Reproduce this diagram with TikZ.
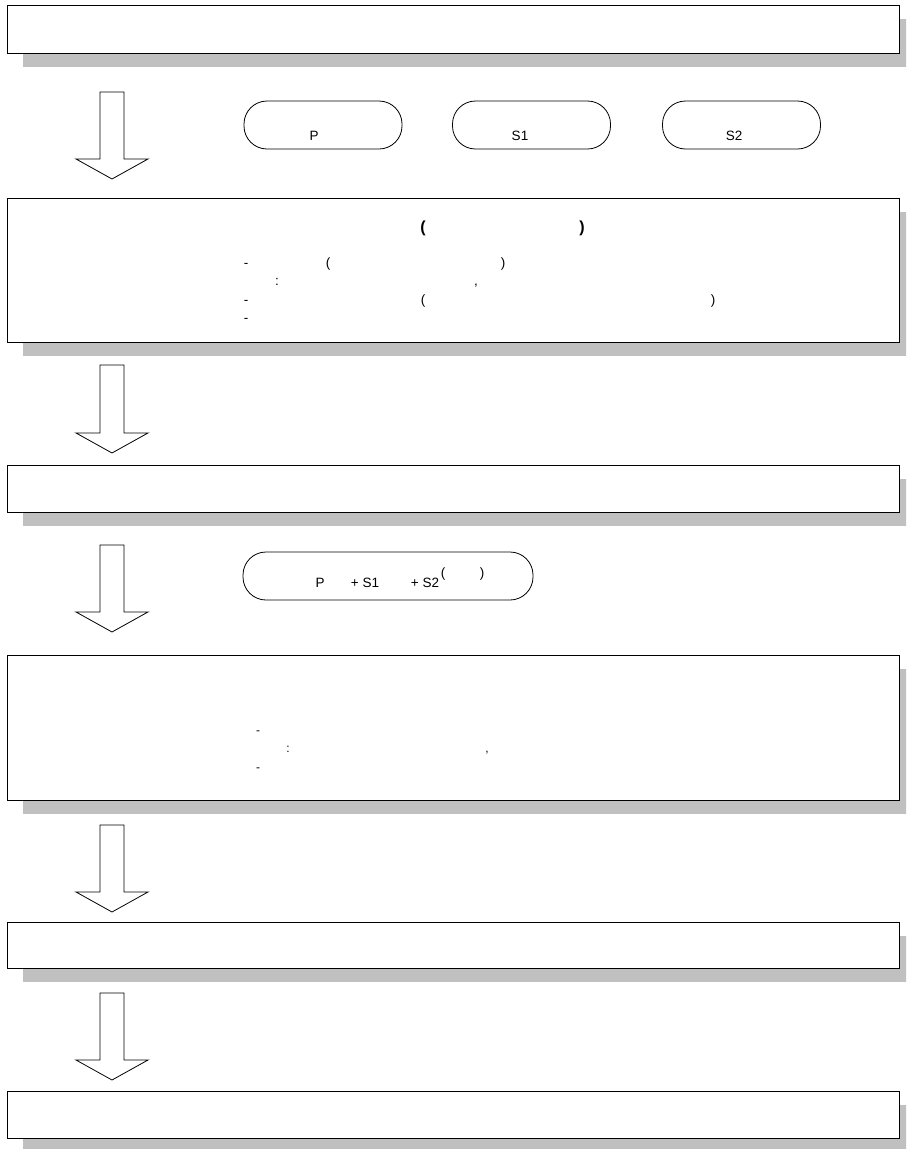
\documentclass[tikz,border=0pt]{standalone}
\usepackage{fontspec}
\setmainfont{Liberation Sans}
\usetikzlibrary{shadows}
\definecolor{shadegray}{RGB}{192,192,192}
\tikzset{
  stepbox/.style={rectangle, draw=black, line width=1pt, fill=white,
                  minimum width=892pt, inner sep=0pt,
                  drop shadow={shadow xshift=16pt, shadow yshift=-14pt,
                               fill=shadegray, opacity=1}},
  pill/.style   ={rectangle, rounded corners=23pt, draw=black, line width=0.8pt,
                  minimum height=48pt, inner sep=0pt},
  downarrow/.style={draw=black, line width=0.8pt, fill=white, line join=miter},
  txt/.style ={anchor=base, inner sep=0pt, font=\fontsize{13.5}{15}\selectfont},
  txtb/.style={txt, font=\fontsize{16}{18}\selectfont\bfseries},
  txts/.style={txt, font=\fontsize{12}{14}\selectfont},
}
\begin{document}
\begin{tikzpicture}[x=1pt, y=-1pt]
  \clip (0,0) rectangle (906,1149);
  \fill[white] (0,0) rectangle (906,1149);
  % steps
  \node[stepbox, minimum height=48pt]  (step1) at (453,29)    {};
  \node[stepbox, minimum height=144pt] (step2) at (453,270)   {};
  \node[stepbox, minimum height=47pt]  (step3) at (453,488.5) {};
  \node[stepbox, minimum height=145pt] (step4) at (453,727.5) {};
  \node[stepbox, minimum height=46pt]  (step5) at (453,945)   {};
  \node[stepbox, minimum height=47pt]  (step6) at (453,1114.5){};
  % block arrows between the steps
  \foreach \t/\h/\e in {92/159/179, 365/433/453, 545/612/632, 825/892/912, 993/1060/1080}
    \draw[downarrow] (100,\t) -- (124,\t) -- (124,\h) -- (148,\h) -- (112,\e)
                     -- (76,\h) -- (100,\h) -- cycle;
  % samples
  \node[pill, minimum width=158pt] (pillP)  at (323,125)   {};
  \node[pill, minimum width=158pt] (pillS1) at (531.5,125) {};
  \node[pill, minimum width=158pt] (pillS2) at (741.5,125) {};
  \node[txt] (labP)  at (314,140) {P};
  \node[txt] (labS1) at (520,140) {S1};
  \node[txt] (labS2) at (734,140) {S2};
  % step 2 text
  \node[txtb] (s2open)  at (423,232) {(};
  \node[txtb] (s2close) at (582,232) {)};
  \node[txt] (s2da) at (246,267) {-};
  \node[txt] (s2pa) at (328,267) {(};
  \node[txt] (s2pb) at (503,267) {)};
  \node[txt] (s2co) at (277,285) {:};
  \node[txt] (s2cm) at (476,285) {,};
  \node[txt] (s2db) at (246,304) {-};
  \node[txt] (s2pc) at (423,304) {(};
  \node[txt] (s2pd) at (713,304) {)};
  \node[txt] (s2dc) at (246,322) {-};
  % mixture
  \node[pill, minimum width=290pt] (pillmix) at (388,576) {};
  \node[txt] (mixP)  at (320,587) {P};
  \node[txt] (mixS1) at (365,587) {+ S1};
  \node[txt] (mixS2) at (425,587) {+ S2};
  \node[txt] (mixpa) at (443,577) {(};
  \node[txt] (mixpb) at (482,577) {)};
  % step 4 text
  \node[txts] (s4da) at (258,734) {-};
  \node[txts] (s4co) at (288,752) {:};
  \node[txts] (s4cm) at (487,752) {,};
  \node[txts] (s4db) at (258,771) {-};
\end{tikzpicture}
\end{document}
